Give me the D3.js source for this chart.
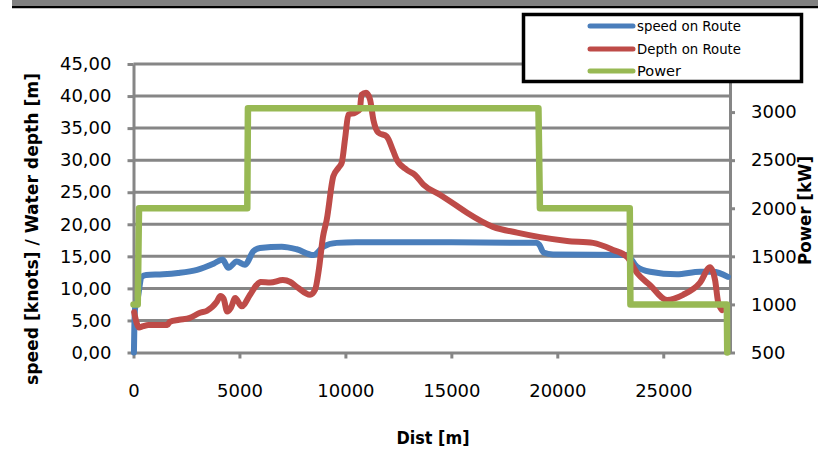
<!DOCTYPE html>
<html><head><meta charset="utf-8">
<script src="https://cdn.jsdelivr.net/npm/d3@7"></script>
<style>html,body{margin:0;padding:0;background:#fff;}svg{display:block;}</style>
</head><body>
<svg id="chart" width="818" height="465"></svg>
<script>
// ---- data ----
const speedDist = [20, 40, 80, 150, 390, 600, 1400, 2100, 3000, 3800, 4200, 4480, 4870, 5260, 5660, 5970, 7000, 7700, 8490, 8960, 9590, 10500, 15000, 19000, 19150, 19350, 19800, 23280, 23750, 24380, 25640, 26740, 27350, 28050];
const speedVal  = [0, 4.0, 7.0, 7.6, 11.8, 12.1, 12.2, 12.4, 12.9, 13.9, 14.5, 13.2, 14.2, 13.7, 15.8, 16.3, 16.5, 16.1, 15.2, 16.5, 17.1, 17.2, 17.2, 17.1, 16.8, 15.6, 15.3, 15.2, 13.4, 12.6, 12.2, 12.6, 12.6, 11.8];

const depthDist = [30, 150, 260, 450, 700, 1600, 1720, 2150, 2660, 3140, 3460, 3930, 4100, 4250, 4420, 4600, 4800, 5100, 5500, 5800, 6000, 6450, 7050, 7400, 7720, 8330, 8570, 8750, 8940, 9119, 9431, 9670, 9827, 9990, 10140, 10450, 10680, 10760, 10975, 11160, 11320, 11555, 11950, 12260, 12420, 12890, 13287, 13680, 14460, 15200, 15741, 16968, 18101, 19187, 20462, 21689, 22633, 23294, 23765, 24379, 25181, 25936, 26738, 27210, 27446, 27588, 27777];
const depthVal  = [6.3, 4.6, 3.9, 4.1, 4.3, 4.3, 4.8, 5.1, 5.4, 6.2, 6.5, 7.9, 8.8, 8.4, 6.4, 7.0, 8.5, 7.2, 9.0, 10.5, 11.0, 10.9, 11.3, 11.0, 10.2, 9.0, 9.8, 13.0, 18.0, 20.7, 27.5, 28.8, 29.6, 33.5, 37.1, 37.4, 37.9, 40.2, 40.5, 39.5, 36.3, 34.3, 33.7, 31.4, 30.1, 28.5, 27.7, 26.2, 24.6, 23.0, 21.8, 19.6, 18.7, 18.0, 17.4, 17.1, 16.0, 14.9, 12.4, 10.5, 8.2, 9.0, 10.9, 13.3, 11.3, 7.9, 6.6];

const powerDist = [0, 200, 260, 5370, 5400, 19110, 19180, 23420, 23450, 28000, 28020];
const powerVal  = [1000, 1000, 2000, 2000, 3040, 3040, 2000, 2000, 1000, 1000, 500];

const xTicks = [0, 5000, 10000, 15000, 20000, 25000];
const yLeftTicks = [0, 5, 10, 15, 20, 25, 30, 35, 40, 45];
const yRightTicks = [500, 1000, 1500, 2000, 2500, 3000];

const seriesNames = ["speed on Route", "Depth on Route", "Power"];
const seriesColors = ["#4A7EBB", "#BE4B48", "#98B954"];

// ---- chart ----
const svg = d3.select("#chart");
const gridColor = "#868686";

// top band
svg.append("rect").attr("x", 12).attr("y", 0).attr("width", 806).attr("height", 6.5).attr("fill", "#808080");
svg.append("line").attr("x1", 12).attr("x2", 818).attr("y1", 7.2).attr("y2", 7.2).attr("stroke", "#000").attr("stroke-width", 2.3);

const x = d3.scaleLinear().domain([0, 28150]).range([133.5, 730]);
const yL = d3.scaleLinear().domain([0, 45]).range([352.5, 64]);
const yR = d3.scaleLinear().domain([500, 3500]).range([352.5, 64]);

// gridlines
svg.append("g").selectAll("line").data(yLeftTicks.filter(d => d > 0)).join("line")
  .attr("x1", x(0)).attr("x2", x.range()[1])
  .attr("y1", d => yL(d)).attr("y2", d => yL(d))
  .attr("stroke", gridColor).attr("stroke-width", 3);

function styleAxis(g) {
  g.select(".domain").attr("stroke", gridColor).attr("stroke-width", 3);
  g.selectAll(".tick line").attr("stroke", gridColor).attr("stroke-width", 3);
  g.selectAll(".tick text").attr("fill", "#000").attr("font-family", "DejaVu Sans").attr("font-size", 18);
}

const gL = svg.append("g").attr("transform", `translate(${x(0)},0)`)
  .call(d3.axisLeft(yL).tickValues(yLeftTicks).tickSize(6).tickSizeOuter(0).tickPadding(16)
    .tickFormat(d => d.toFixed(2).replace(".", ",")));
styleAxis(gL);

const gR = svg.append("g").attr("transform", `translate(${x.range()[1]},0)`)
  .call(d3.axisRight(yR).tickValues(yRightTicks).tickSize(5).tickSizeOuter(0).tickPadding(16).tickFormat(d3.format("d")));
styleAxis(gR);

const gX = svg.append("g").attr("transform", `translate(0,${yL(0)})`)
  .call(d3.axisBottom(x).tickValues(xTicks).tickSize(6).tickSizeOuter(0).tickFormat(d3.format("d")));
styleAxis(gX);
gX.selectAll(".tick text").attr("y", 38.5).attr("dy", "0.35em");

// lines
const lineL = d3.line().x(d => x(d[0])).y(d => yL(d[1])).curve(d3.curveMonotoneX);
const lineR = d3.line().x(d => x(d[0])).y(d => yR(d[1]));

const speedData = d3.zip(speedDist, speedVal);
const depthData = d3.zip(depthDist, depthVal);
const powerData = d3.zip(powerDist, powerVal);

svg.append("path").datum(speedData).attr("d", lineL).attr("fill", "none")
  .attr("stroke", seriesColors[0]).attr("stroke-width", 6).attr("stroke-linejoin", "round").attr("stroke-linecap", "round");
svg.append("path").datum(depthData).attr("d", lineL).attr("fill", "none")
  .attr("stroke", seriesColors[1]).attr("stroke-width", 6).attr("stroke-linejoin", "round").attr("stroke-linecap", "round");
svg.append("path").datum(powerData).attr("d", lineR).attr("fill", "none")
  .attr("stroke", seriesColors[2]).attr("stroke-width", 6.5).attr("stroke-linejoin", "round").attr("stroke-linecap", "round");

// titles
svg.append("text").attr("transform", "translate(32,229) rotate(-90)")
  .attr("text-anchor", "middle").attr("dominant-baseline", "central")
  .attr("font-family", "DejaVu Sans").attr("font-weight", "bold").attr("font-size", 17)
  .attr("textLength", 312).attr("lengthAdjust", "spacingAndGlyphs")
  .text("speed [knots] / Water depth [m]");

svg.append("text").attr("x", 433).attr("y", 438)
  .attr("text-anchor", "middle").attr("dominant-baseline", "central")
  .attr("font-family", "DejaVu Sans").attr("font-weight", "bold").attr("font-size", 17)
  .attr("textLength", 73).attr("lengthAdjust", "spacingAndGlyphs")
  .text("Dist [m]");

svg.append("text").attr("transform", "translate(805,210.5) rotate(-90)")
  .attr("text-anchor", "middle").attr("dominant-baseline", "central")
  .attr("font-family", "DejaVu Sans").attr("font-weight", "bold").attr("font-size", 17)
  .attr("textLength", 109).attr("lengthAdjust", "spacingAndGlyphs")
  .text("Power [kW]");

// legend
const lg = svg.append("g");
lg.append("rect").attr("x", 523.5).attr("y", 14.5).attr("width", 278).attr("height", 67)
  .attr("fill", "#fff").attr("stroke", "#000").attr("stroke-width", 3.5);
const legendY = [26, 49, 71];
const legendW = [104, 104, 44];
seriesNames.forEach((name, i) => {
  lg.append("line").attr("x1", 590).attr("x2", 633).attr("y1", legendY[i]).attr("y2", legendY[i])
    .attr("stroke", seriesColors[i]).attr("stroke-width", 5).attr("stroke-linecap", "round");
  lg.append("text").attr("x", 637).attr("y", legendY[i]).attr("dominant-baseline", "central")
    .attr("font-family", "DejaVu Sans").attr("font-size", 13.5)
    .attr("textLength", legendW[i]).attr("lengthAdjust", "spacingAndGlyphs")
    .text(name);
});
</script>
</body></html>
